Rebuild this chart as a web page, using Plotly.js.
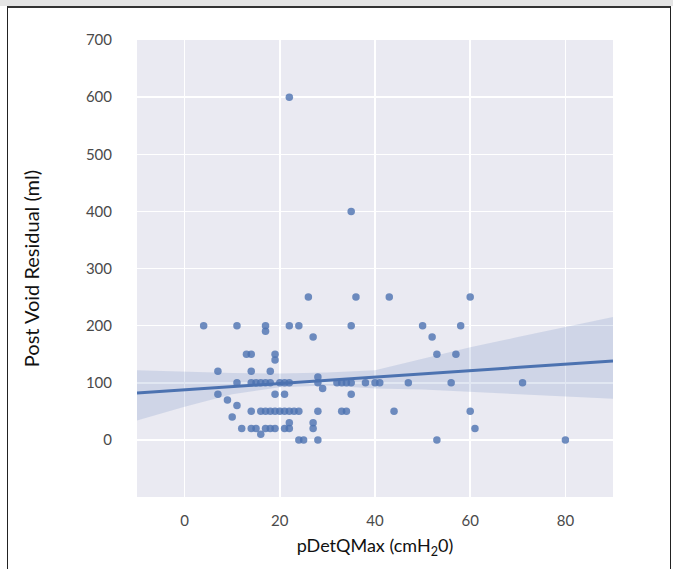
<!DOCTYPE html>
<html>
<head>
<meta charset="utf-8">
<script src="https://cdn.plot.ly/plotly-3.0.1.min.js"></script>
<style>
  html, body { margin: 0; padding: 0; background: #ffffff; }
  #wrap { position: relative; width: 673px; height: 569px; overflow: hidden; }
  #topstrip { position: absolute; left: 0; top: 0; width: 673px; height: 6px; background: #e4e4e4; z-index: 2; }
  #frame { position: absolute; left: 7px; top: 6px; width: 662px; height: 620px;
           border: 1.5px solid #222; border-top: 2px solid #333; z-index: 2; pointer-events: none; }
  #chart { position: absolute; left: 0; top: 0; width: 673px; height: 569px; }
</style>
</head>
<body>
<div id="wrap">
  <div id="chart"></div>
  <div id="topstrip"></div>
  <div id="frame"></div>
</div>
<script>
// Scatter data: pDetQMax (cmH2O) vs Post Void Residual (ml)
const pDetQMax = [22, 35, 26, 36, 43, 60, 4, 11, 17, 17, 22, 24, 35, 50, 58, 27, 52,
  13, 14, 19, 19, 53, 57, 7, 14, 18, 28, 11, 14, 15, 16, 17, 18, 20, 21, 22, 28,
  32, 33, 34, 35, 38, 40, 41, 47, 56, 71, 29, 7, 19, 21, 35, 9, 11, 14, 16, 17,
  18, 19, 20, 21, 22, 23, 24, 28, 33, 34, 44, 60, 10, 22, 27, 12, 14, 15, 17, 18,
  19, 21, 22, 27, 61, 16, 24, 25, 28, 53, 80];
const pvr = [600, 400, 250, 250, 250, 250, 200, 200, 200, 190, 200, 200, 200, 200, 200, 180, 180,
  150, 150, 150, 140, 150, 150, 120, 120, 120, 110, 100, 100, 100, 100, 100, 100, 100, 100, 100, 100,
  100, 100, 100, 100, 100, 100, 100, 100, 100, 100, 90, 80, 80, 80, 80, 70, 60, 50, 50, 50,
  50, 50, 50, 50, 50, 50, 50, 50, 50, 50, 50, 50, 40, 30, 30, 20, 20, 20, 20, 20,
  20, 20, 20, 20, 20, 10, 0, 0, 0, 0, 0];

// Regression line and confidence band
const fitX = [-10, 90];
const fitY = [82, 138];
const bandX = [-10, 0, 10, 20, 30, 40, 50, 60, 70, 80, 90];
const bandUpper = [122, 119, 117, 116, 118, 122, 142, 162, 180, 198, 215];
const bandLower = [34, 58, 80, 92, 95, 90, 88, 84, 80, 76, 72];

// Axis ticks
const xTicks = [0, 20, 40, 60, 80];
const yTicks = [0, 100, 200, 300, 400, 500, 600, 700];

const blue = '#4C72B0';

const traces = [
  {
    x: bandX, y: bandLower, type: 'scatter', mode: 'lines',
    line: { width: 0, color: 'rgba(0,0,0,0)' }, hoverinfo: 'skip', showlegend: false
  },
  {
    x: bandX, y: bandUpper, type: 'scatter', mode: 'lines', fill: 'tonexty',
    fillcolor: 'rgba(76,114,176,0.17)',
    line: { width: 0, color: 'rgba(0,0,0,0)' }, hoverinfo: 'skip', showlegend: false
  },
  {
    x: pDetQMax, y: pvr, type: 'scatter', mode: 'markers',
    marker: { color: blue, size: 7.5, opacity: 0.8 }, showlegend: false
  },
  {
    x: fitX, y: fitY, type: 'scatter', mode: 'lines',
    line: { color: blue, width: 3 }, showlegend: false
  }
];

const layout = {
  width: 673, height: 569,
  margin: { l: 137, r: 60, t: 40, b: 72 },
  paper_bgcolor: '#ffffff',
  plot_bgcolor: '#EAEAF2',
  font: { family: 'Lato, "Open Sans", sans-serif', color: '#444' },
  xaxis: {
    range: [-10, 90], tickvals: xTicks, ticktext: xTicks.map(String),
    showgrid: true, gridcolor: '#ffffff', gridwidth: 1.5, zeroline: false,
    showline: false, ticks: '', ticklabelstandoff: 13,
    tickfont: { size: 15, color: '#4a4a4a' },
    title: { text: 'pDetQMax (cmH<sub>2</sub>0)', font: { size: 18, color: '#111' }, standoff: 11 }
  },
  yaxis: {
    range: [-100, 700], tickvals: yTicks, ticktext: yTicks.map(String),
    showgrid: true, gridcolor: '#ffffff', gridwidth: 1.5, zeroline: false,
    showline: false, ticks: '', ticklabelstandoff: 24,
    tickfont: { size: 15, color: '#4a4a4a' },
    title: { text: 'Post Void Residual (ml)', font: { size: 20, color: '#111' }, standoff: 40 }
  }
};

Plotly.newPlot('chart', traces, layout, { displayModeBar: false, staticPlot: true });
</script>
</body>
</html>
